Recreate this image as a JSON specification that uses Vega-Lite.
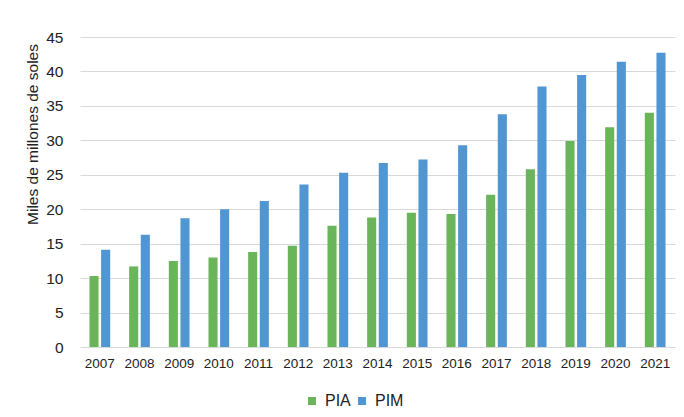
{
  "$schema": "https://vega.github.io/schema/vega-lite/v6.json",
  "width": 595,
  "height": 310,
  "autosize": {"type": "none"},
  "padding": {"left": 80, "top": 37, "right": 9, "bottom": 70},
  "background": "white",
  "data": {
    "values": [
      {"year": "2007", "serie": "PIA", "valor": 10.3}, {"year": "2007", "serie": "PIM", "valor": 14.1},
      {"year": "2008", "serie": "PIA", "valor": 11.7}, {"year": "2008", "serie": "PIM", "valor": 16.3},
      {"year": "2009", "serie": "PIA", "valor": 12.5}, {"year": "2009", "serie": "PIM", "valor": 18.7},
      {"year": "2010", "serie": "PIA", "valor": 13.0}, {"year": "2010", "serie": "PIM", "valor": 20.0},
      {"year": "2011", "serie": "PIA", "valor": 13.8}, {"year": "2011", "serie": "PIM", "valor": 21.2},
      {"year": "2012", "serie": "PIA", "valor": 14.7}, {"year": "2012", "serie": "PIM", "valor": 23.6},
      {"year": "2013", "serie": "PIA", "valor": 17.6}, {"year": "2013", "serie": "PIM", "valor": 25.3},
      {"year": "2014", "serie": "PIA", "valor": 18.8}, {"year": "2014", "serie": "PIM", "valor": 26.7},
      {"year": "2015", "serie": "PIA", "valor": 19.5}, {"year": "2015", "serie": "PIM", "valor": 27.2},
      {"year": "2016", "serie": "PIA", "valor": 19.3}, {"year": "2016", "serie": "PIM", "valor": 29.3},
      {"year": "2017", "serie": "PIA", "valor": 22.1}, {"year": "2017", "serie": "PIM", "valor": 33.8},
      {"year": "2018", "serie": "PIA", "valor": 25.8}, {"year": "2018", "serie": "PIM", "valor": 37.8},
      {"year": "2019", "serie": "PIA", "valor": 29.9}, {"year": "2019", "serie": "PIM", "valor": 39.5},
      {"year": "2020", "serie": "PIA", "valor": 31.9}, {"year": "2020", "serie": "PIM", "valor": 41.4},
      {"year": "2021", "serie": "PIA", "valor": 34.0}, {"year": "2021", "serie": "PIM", "valor": 42.7}
    ]
  },
  "mark": {"type": "bar"},
  "encoding": {
    "x": {
      "field": "year",
      "type": "nominal",
      "scale": {"paddingInner": 0.478, "paddingOuter": 0.239},
      "axis": {
        "title": null,
        "labelAngle": 0,
        "labelFontSize": 13.5,
        "labelColor": "#222222",
        "labelPadding": 9,
        "ticks": false,
        "tickSize": 0,
        "domain": false,
        "grid": false
      }
    },
    "xOffset": {
      "field": "serie",
      "type": "nominal",
      "scale": {"domain": ["PIA", "PIM"], "paddingInner": 0.22, "paddingOuter": 0}
    },
    "y": {
      "field": "valor",
      "type": "quantitative",
      "scale": {"domain": [0, 45], "nice": false},
      "axis": {
        "title": "Miles de millones de soles",
        "titleFontSize": 15.5,
        "titleFontWeight": "normal",
        "titleColor": "#222222",
        "titleX": -43,
        "titleY": 97,
        "titleAlign": "center",
        "titleBaseline": "alphabetic",
        "titleAngle": -90,
        "values": [0, 5, 10, 15, 20, 25, 30, 35, 40, 45],
        "labelFontSize": 15.5,
        "labelColor": "#222222",
        "labelPadding": 17,
        "ticks": false,
        "tickSize": 0,
        "domain": false,
        "grid": true,
        "gridColor": "#d9d9d9",
        "gridWidth": 1.2
      }
    },
    "color": {
      "field": "serie",
      "type": "nominal",
      "scale": {"domain": ["PIA", "PIM"], "range": ["#6ab45a", "#5096d2"]},
      "legend": {
        "title": null,
        "orient": "none",
        "direction": "horizontal",
        "legendX": 224,
        "legendY": 356,
        "symbolType": "square",
        "symbolSize": 64,
        "symbolStrokeWidth": 0,
        "labelFontSize": 16,
        "labelColor": "#222222",
        "labelOffset": 5,
        "columnPadding": 3
      }
    }
  },
  "config": {
    "view": {"stroke": null},
    "font": "Liberation Sans"
  }
}
